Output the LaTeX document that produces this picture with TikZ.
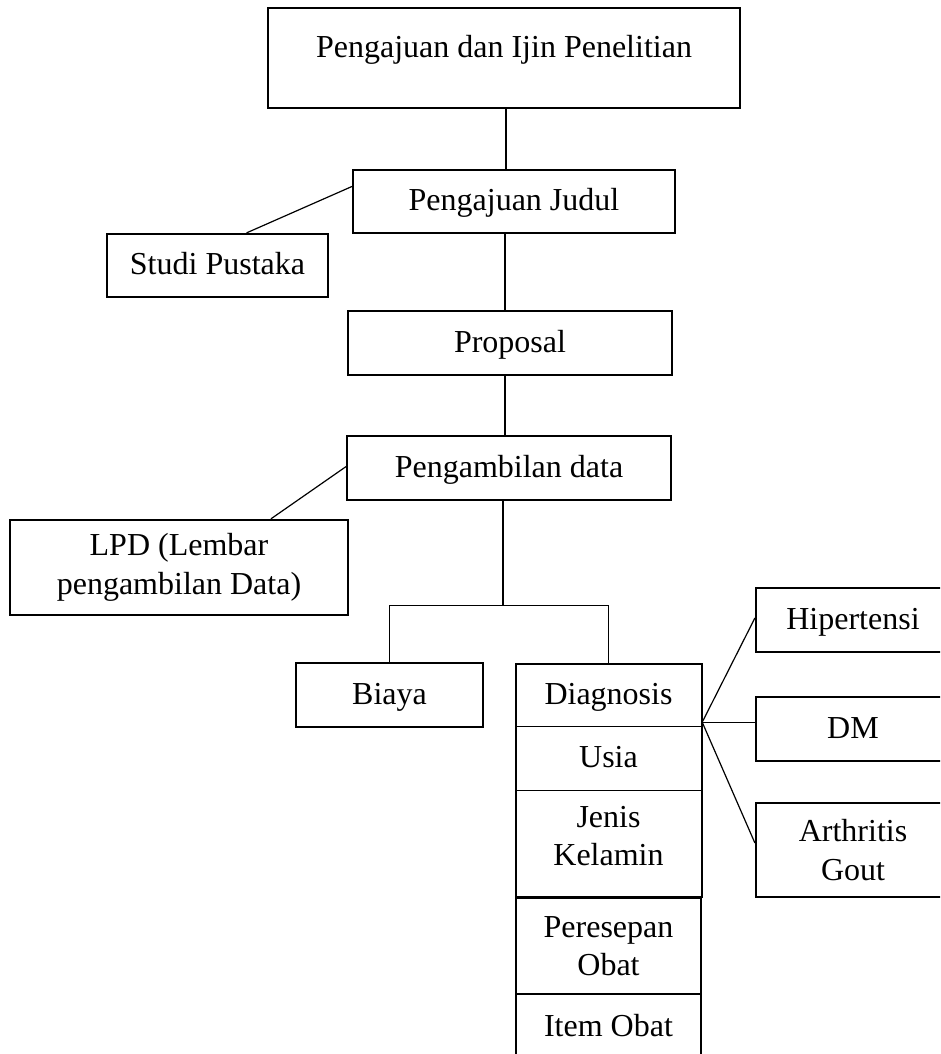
\documentclass[tikz,border=0pt]{standalone}
\usepackage{fontspec}
\setmainfont{Liberation Serif}
\usetikzlibrary{calc}
\tikzstyle{box}=[draw, line width=2.2pt, inner sep=0pt, align=center, font=\fontsize{32}{38.5}\selectfont]
\tikzstyle{cell}=[inner sep=0pt, align=center, font=\fontsize{32}{38.5}\selectfont]
\tikzstyle{oneline}=[text height=22pt, text depth=4pt]
\tikzstyle{link}=[line width=1.2pt]

\begin{document}
\begin{tikzpicture}[x=1pt,y=-1pt]
	\useasboundingbox (0,0) rectangle (940,1054);
	\clip (0,0) rectangle (940,1054);
	\node[box, minimum width=472pt, minimum height=100pt, text height=22pt, text depth=22pt] (ijin) at (504,58) {Pengajuan dan Ijin Penelitian};
	\node[box, oneline, minimum width=322pt, minimum height=63pt] (judul) at (514,201.5) {Pengajuan Judul};
	\node[box, oneline, minimum width=221pt, minimum height=63pt] (pustaka) at (217.5,265.5) {Studi Pustaka};
	\node[box, oneline, minimum width=324pt, minimum height=64pt] (proposal) at (510,343) {Proposal};
	\node[box, oneline, minimum width=324pt, minimum height=64pt] (ambil) at (509,468) {Pengambilan data};
	\node[box, minimum width=338pt, minimum height=95pt] (lpd) at (179,567.5) {LPD (Lembar\\pengambilan Data)};
	\node[box, oneline, minimum width=187pt, minimum height=64pt] (biaya) at (389.5,695) {Biaya};
	\node[cell, oneline, minimum width=185pt, minimum height=62pt] (diag) at (608.5,695) {Diagnosis};
	\node[cell, oneline, minimum width=185pt, minimum height=64pt] (usia) at (608.5,758) {Usia};
	\node[cell, minimum width=185pt, minimum height=92pt] (jenis) at (608.5,836) {Jenis\\Kelamin};
	\node[box, minimum width=185pt, minimum height=96pt] (resep) at (608.5,946) {Peresepan\\Obat};
	\node[box, oneline, minimum width=185pt, minimum height=66pt] (item) at (608.5,1027) {Item Obat};
	\node[box, oneline, minimum width=194pt, minimum height=64pt] (hiper) at (853,620) {Hipertensi};
	\node[box, oneline, minimum width=194pt, minimum height=64pt] (dm) at (853,729) {DM};
	\node[box, minimum width=194pt, minimum height=94pt] (gout) at (853,850) {Arthritis\\Gout};
	\draw[line width=2.2pt] (diag.north west) rectangle (resep.north east);
	\draw[link] (diag.south west) -- (diag.south east);
	\draw[link] (usia.south west) -- (usia.south east);
	\draw[link] ([xshift=2pt]ijin.south) -- ([xshift=2pt]ijin.south |- judul.north);
	\draw[link] ($(judul.north west)!0.27!(judul.south west)$) -- ($(pustaka.north west)!0.63!(pustaka.north east)$);
	\draw[link] ([xshift=-5pt]proposal.north) -- ([xshift=-5pt]proposal.north |- judul.south);
	\draw[link] ([xshift=-5pt]proposal.south) -- ([xshift=-5pt]proposal.south |- ambil.north);
	\draw[link] ($(ambil.north west)!0.48!(ambil.south west)$) -- ($(lpd.north west)!0.77!(lpd.north east)$);
	\draw[link] ([xshift=-6pt]ambil.south) -- ++(0,104) coordinate (split);
	\draw[link] (biaya.north) |- (split) -| (diag.north);
	\coordinate (fan) at ($(diag.south east)+(1,-4)$);
	\draw[link] (fan) -- ([yshift=2pt]hiper.west);
	\draw[link] (fan) -- (fan -| dm.west);
	\draw[link] (fan) -- ([yshift=7pt]gout.west);
\end{tikzpicture}
\end{document}
